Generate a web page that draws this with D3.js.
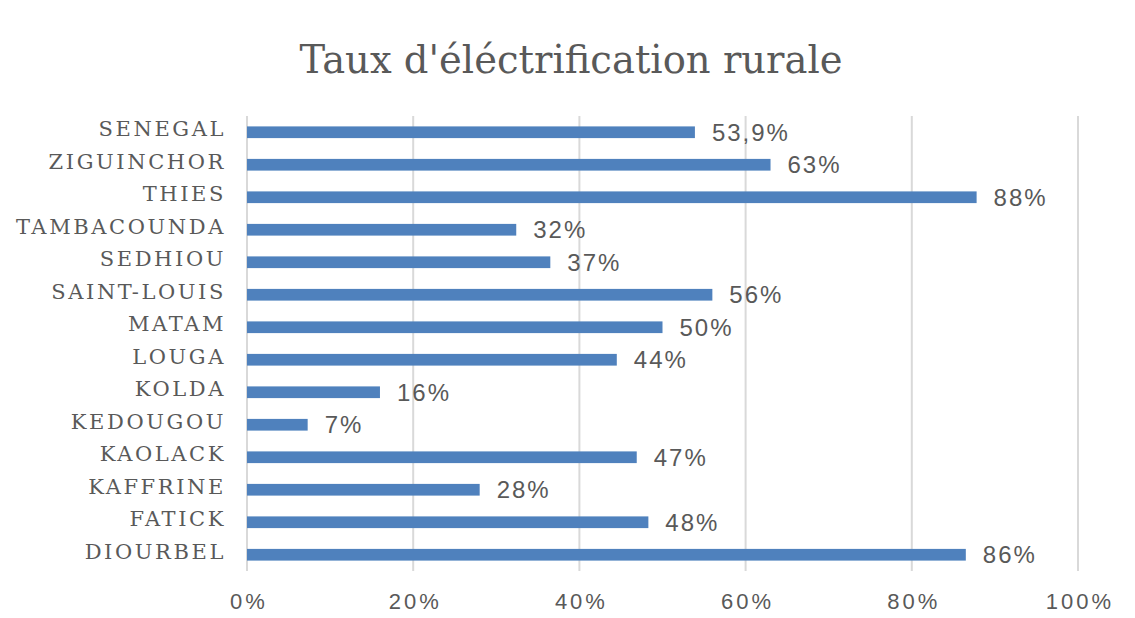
<!DOCTYPE html>
<html>
<head>
<meta charset="utf-8">
<script src="https://cdn.jsdelivr.net/npm/d3@7"></script>
<style>
  body { margin: 0; background: #fff; }
</style>
</head>
<body>
<svg id="chart" width="1135" height="618"></svg>
<script>
// chart data
const regions = ['SENEGAL', 'ZIGUINCHOR', 'THIES', 'TAMBACOUNDA', 'SEDHIOU', 'SAINT-LOUIS',
  'MATAM', 'LOUGA', 'KOLDA', 'KEDOUGOU', 'KAOLACK', 'KAFFRINE', 'FATICK', 'DIOURBEL'];
const rates = [0.539, 0.63, 0.878, 0.324, 0.365, 0.56, 0.50, 0.445, 0.16, 0.073, 0.469, 0.28, 0.483, 0.865];
const rateLabels = ['53,9%', '63%', '88%', '32%', '37%', '56%', '50%', '44%', '16%', '7%', '47%', '28%', '48%', '86%'];
const xTicks = [0, 0.2, 0.4, 0.6, 0.8, 1];

const svg = d3.select('#chart');
const margin = { top: 116, right: 57, bottom: 47, left: 247 };
const width = 1135 - margin.left - margin.right;
const height = 618 - margin.top - margin.bottom;

const g = svg.append('g')
  .attr('transform', `translate(${margin.left},${margin.top})`);

const x = d3.scaleLinear().domain([0, 1]).range([0, width]);
const y = d3.scaleBand().domain(regions).range([0, height]).paddingInner(0.64).paddingOuter(0.32);

// title
svg.append('text')
  .attr('x', 571)
  .attr('y', 73)
  .attr('text-anchor', 'middle')
  .attr('font-family', 'DejaVu Serif, serif')
  .attr('font-size', '38.5px')
  .attr('fill', '#595959')
  .text("Taux d'éléctrification rurale");

// gridlines
g.selectAll('.grid')
  .data(xTicks)
  .join('line')
  .attr('class', 'grid')
  .attr('x1', (d) => x(d))
  .attr('x2', (d) => x(d))
  .attr('y1', 0)
  .attr('y2', height)
  .attr('stroke', '#d9d9d9')
  .attr('stroke-width', 2);

// x axis labels
const xAxis = g.append('g')
  .attr('transform', `translate(0,${height})`)
  .call(d3.axisBottom(x).tickValues(xTicks).tickFormat(d3.format('.0%')).tickSize(0).tickPadding(22));
xAxis.select('.domain').remove();
xAxis.selectAll('text')
  .attr('font-family', 'Liberation Sans, sans-serif')
  .attr('font-size', '22px')
  .attr('letter-spacing', '3px')
  .attr('dx', '1.5px')
  .attr('fill', '#595959');

// y axis labels
const yAxis = g.append('g')
  .call(d3.axisLeft(y).tickSize(0).tickPadding(21));
yAxis.select('.domain').remove();
yAxis.selectAll('text')
  .attr('font-family', 'DejaVu Serif, serif')
  .attr('font-size', '21px')
  .attr('letter-spacing', '2.6px')
  .attr('fill', '#595959')
  .attr('dy', '0.2em');

// bars
g.selectAll('.bar')
  .data(regions)
  .join('rect')
  .attr('class', 'bar')
  .attr('x', 0)
  .attr('y', (d) => y(d))
  .attr('width', (d, i) => x(rates[i]))
  .attr('height', y.bandwidth())
  .attr('fill', '#4f81bd');

// value labels
g.selectAll('.value')
  .data(regions)
  .join('text')
  .attr('class', 'value')
  .attr('x', (d, i) => x(rates[i]) + 17)
  .attr('y', (d) => y(d) + y.bandwidth() / 2)
  .attr('dy', '0.35em')
  .attr('font-family', 'Liberation Sans, sans-serif')
  .attr('font-size', '24px')
  .attr('letter-spacing', '2px')
  .attr('fill', '#595959')
  .text((d, i) => rateLabels[i]);
</script>
</body>
</html>
